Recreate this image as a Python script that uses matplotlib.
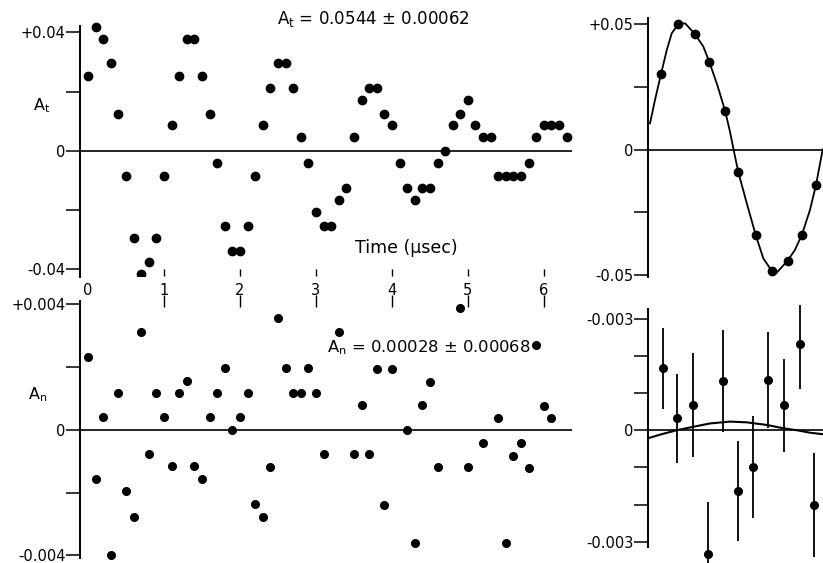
import matplotlib.pyplot as plt

plt.rcParams['font.family'] = ['DejaVu Sans']

# transverse asymmetry vs time (usec)
t_top = [0.0, 0.1, 0.2, 0.3, 0.4, 0.5, 0.6, 0.7, 0.8, 0.9,
         1.0, 1.1, 1.2, 1.3, 1.4, 1.5, 1.6, 1.7, 1.8, 1.9,
         2.0, 2.1, 2.2, 2.3, 2.4, 2.5, 2.6, 2.7, 2.8, 2.9,
         3.0, 3.1, 3.2, 3.3, 3.4, 3.5, 3.6, 3.7, 3.8, 3.9,
         4.0, 4.1, 4.2, 4.3, 4.4, 4.5, 4.6, 4.7, 4.8, 4.9,
         5.0, 5.1, 5.2, 5.3, 5.4, 5.5, 5.6, 5.7, 5.8, 5.9,
         6.0, 6.1, 6.2, 6.3]
a_t = [0.0253, 0.0417, 0.0379, 0.0298, 0.0124, -0.0084, -0.0295, -0.0417, -0.0375, -0.0295,
       -0.0084, 0.0088, 0.0251, 0.0377, 0.0377, 0.0251, 0.0124, -0.0041, -0.0253, -0.0338,
       -0.0338, -0.0253, -0.0084, 0.0088, 0.0212, 0.0296, 0.0296, 0.0212, 0.0047, -0.0042,
       -0.0208, -0.0253, -0.0253, -0.0167, -0.0127, 0.0047, 0.0172, 0.0212, 0.0212, 0.0124,
       0.0087, -0.0042, -0.0127, -0.0167, -0.0127, -0.0127, -0.0042, 0.0, 0.0087, 0.0124,
       0.0172, 0.0087, 0.0047, 0.0047, -0.0084, -0.0084, -0.0084, -0.0084, -0.0042, 0.0047,
       0.0087, 0.0087, 0.0087, 0.0047]

# normal asymmetry vs time (usec)
t_bot = [0.0, 0.1, 0.2, 0.3, 0.4, 0.5, 0.6, 0.7, 0.8, 0.9,
         1.0, 1.1, 1.2, 1.3, 1.4, 1.5, 1.6, 1.7, 1.8, 1.9,
         2.0, 2.1, 2.2, 2.3, 2.4, 2.5, 2.6, 2.7, 2.8, 2.9,
         3.0, 3.1, 3.3, 3.5, 3.6, 3.7, 3.8, 3.9,
         4.0, 4.2, 4.3, 4.4, 4.5, 4.6, 4.9,
         5.0, 5.2, 5.4, 5.5, 5.6, 5.7, 5.8, 5.9,
         6.0, 6.1]
a_n = [0.00234, -0.00156, 0.0004, -0.0040, 0.00117, -0.00194, -0.00276, 0.00313, -0.00076, 0.00117,
       0.0004, -0.00115, 0.00117, 0.00156, -0.00115, -0.00156, 0.0004, 0.00117, 0.00196, 0.0,
       0.0004, 0.00117, -0.00237, -0.00276, -0.00117, 0.00356, 0.00196, 0.00117, 0.00117, 0.00196,
       0.00117, -0.00076, 0.00313, -0.00076, 0.00078, -0.00076, 0.00193, -0.00239,
       0.00193, 0.0, -0.00359, 0.00078, 0.00154, -0.00119, 0.0039,
       -0.00119, -0.00042, 0.00039, -0.00359, -0.00082, -0.00042, -0.00122, 0.00271,
       0.00076, 0.00039]

# folded data (right panels), phase bins
ph_t = [0.84, 1.95, 3.03, 3.95, 4.97, 5.83, 6.95, 7.98, 9.01, 9.92, 10.84]
fold_t = [0.0301, 0.0499, 0.0460, 0.0350, 0.0155, -0.0091, -0.0341, -0.0483, -0.0443, -0.0341, -0.0141]
curve_t_x = [0.13, 0.45, 0.84, 1.21, 1.53, 1.95, 2.39, 3.03, 3.57, 3.95, 4.47, 4.97, 5.29, 5.52,
             5.83, 6.37, 6.95, 7.44, 7.98, 8.3, 9.01, 9.48, 9.92, 10.45, 10.84, 11.27]
curve_t_y = [0.0104, 0.0197, 0.0301, 0.0396, 0.0463, 0.0499, 0.0503, 0.0460, 0.0410, 0.0350, 0.0257,
             0.0155, 0.0071, 0.0, -0.0091, -0.0214, -0.0341, -0.0434, -0.0483, -0.0491, -0.0443,
             -0.0400, -0.0341, -0.0241, -0.0141, 0.0]

ph_n = [0.99, 1.89, 2.9, 3.89, 4.86, 5.78, 6.79, 7.76, 8.79, 9.83, 10.71]
fold_n = [0.00168, 0.00033, 0.00068, -0.00334, 0.00134, -0.00164, -0.00099, 0.00136, 0.00068, 0.00233, -0.00201]
err_n = [0.0011, 0.0012, 0.0014, 0.0014, 0.00137, 0.00135, 0.00137, 0.0013, 0.00126, 0.0012, 0.0014]
curve_n_x = [0.0, 0.88, 1.89, 2.92, 4.0, 5.29, 6.37, 7.66, 8.73, 9.7, 10.45, 11.27]
curve_n_y = [-0.00021, -0.0001, 0.00001, 0.0001, 0.00019, 0.00024, 0.00022, 0.00015, 0.00006, 0.0,
             -0.00006, -0.0001]

W, H = 823, 563


def px_axes(fig, x0, y0, x1, y1):
    return fig.add_axes([x0 / W, 1 - y1 / H, (x1 - x0) / W, (y1 - y0) / H])


def px_text(fig, x, y, s, **kw):
    fig.text(x / W, 1 - y / H, s, **kw)


def style_axes(ax, ylim, bounds, yticks, ylabels):
    ax.set_ylim(*ylim)
    for side in ('top', 'right', 'bottom'):
        ax.spines[side].set_visible(False)
    ax.spines['left'].set_bounds(*bounds)
    ax.spines['left'].set_linewidth(1.4)
    ax.set_yticks(yticks)
    ax.set_yticklabels(ylabels, fontsize=10.5)
    ax.tick_params(axis='y', direction='out', length=10, width=1.1, pad=0.5)
    ax.axhline(0, color='black', lw=1.2)
    ax.set_facecolor('none')


fig = plt.figure(figsize=(W / 100, H / 100), dpi=100)

# top left
ax1 = px_axes(fig, 80, 20, 572, 276)
ax1.plot(t_top, a_t, 'o', color='black', ms=6)
ax1.set_xlim(-0.105, 6.37)
style_axes(ax1, (-0.04226, 0.04415), (-0.0426, 0.0422),
           [-0.04, -0.02, 0, 0.02, 0.04], ['-0.04', '', '0', '', '+0.04'])
ax1.set_xticks([0, 1, 2, 3, 4, 5, 6])
ax1.tick_params(axis='x', direction='in', length=5, width=1.0, pad=5, labelsize=10.5)
ax1.xaxis.get_major_ticks()[0].tick1line.set_visible(False)

# bottom left
ax2 = px_axes(fig, 80, 301, 572, 563)
ax2.plot(t_bot, a_n, 'o', color='black', ms=5.5, clip_on=False)
ax2.set_xlim(-0.105, 6.37)
style_axes(ax2, (-0.00424, 0.00411), (-0.00408, 0.00411),
           [-0.004, -0.002, 0, 0.002, 0.004], ['-0.004', '', '0', '', '+0.004'])
ax2.set_xticks([0, 1, 2, 3, 4, 5, 6])
ax2.tick_params(axis='x', bottom=False, top=True, labelbottom=False,
                direction='inout', length=8, width=1.0)
ax2.xaxis.get_major_ticks()[0].tick2line.set_visible(False)

# top right
ax3 = px_axes(fig, 648, 15, 823, 280)
ax3.plot(curve_t_x, curve_t_y, color='black', lw=1.3)
ax3.plot(ph_t, fold_t, 'o', color='black', ms=6)
ax3.set_xlim(0, 11.29)
ax3.set_xticks([])
style_axes(ax3, (-0.0520, 0.0536), (-0.0508, 0.0524),
           [-0.05, -0.025, 0, 0.025, 0.05], ['-0.05', '', '0', '', '+0.05'])

# bottom right
ax4 = px_axes(fig, 648, 305, 823, 563)
ax4.plot(curve_n_x, curve_n_y, color='black', lw=1.5)
ax4.errorbar(ph_n, fold_n, yerr=err_n, fmt='o', color='black', ms=5.5,
             elinewidth=1.3, capsize=0)
ax4.set_xlim(0, 11.29)
ax4.set_xticks([])
style_axes(ax4, (-0.00358, 0.00339), (-0.00315, 0.00328),
           [-0.003, -0.002, -0.001, 0, 0.001, 0.002, 0.003],
           ['-0.003', '', '', '0', '', '', '-0.003'])

# labels and annotations
px_text(fig, 42, 106, 'A$_\\mathregular{t}$', fontsize=11.5, ha='center', va='center')
px_text(fig, 38, 395, 'A$_\\mathregular{n}$', fontsize=11.5, ha='center', va='center')
px_text(fig, 277, 19, 'A$_\\mathregular{t}$ = 0.0544 ± 0.00062', fontsize=12, va='center')
px_text(fig, 327, 348, 'A$_\\mathregular{n}$ = 0.00028 ± 0.00068', fontsize=11.8, va='center')
px_text(fig, 355, 248, 'Time (µsec)', fontsize=12.5, va='center')

plt.savefig('out.png', dpi=100)
